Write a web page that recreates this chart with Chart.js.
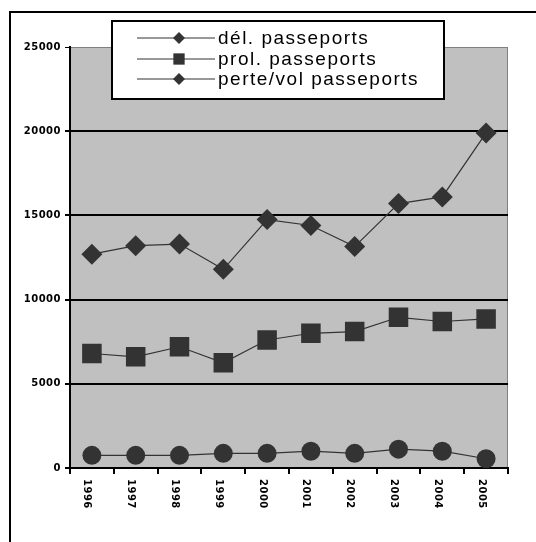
<!DOCTYPE html>
<html>
<head>
<meta charset="utf-8">
<script src="https://cdn.jsdelivr.net/npm/chart.js@4.4.1/dist/chart.umd.min.js"></script>
<style>
html, body { margin: 0; padding: 0; background: #fff; }
#wrap { width: 536px; height: 542px; }
</style>
</head>
<body>
<div id="wrap"><canvas id="chart" width="536" height="542"></canvas></div>
<script>
// ---- data ----
const years = ["1996", "1997", "1998", "1999", "2000", "2001", "2002", "2003", "2004", "2005"];
const delivrance = [12700, 13200, 13300, 11800, 14750, 14400, 13150, 15700, 16100, 19900];
const prolongation = [6800, 6600, 7200, 6250, 7600, 8000, 8100, 8950, 8700, 8850];
const perteVol = [750, 750, 750, 870, 870, 1000, 870, 1120, 1000, 550];
const seriesLabels = ["dél. passeports", "prol. passeports", "perte/vol passeports"];
const yTicks = [0, 5000, 10000, 15000, 20000, 25000];

const ink = "#333333";

// background, frame, plot area fill
const backdrop = {
    id: "backdrop",
    beforeDraw(chart) {
        const ctx = chart.ctx;
        const a = chart.chartArea;
        ctx.save();
        ctx.fillStyle = "#fff";
        ctx.fillRect(0, 0, chart.width, chart.height);
        // outer frame (only left/top visible)
        ctx.strokeStyle = "#000";
        ctx.lineWidth = 2;
        ctx.beginPath();
        ctx.moveTo(10, chart.height + 2);
        ctx.lineTo(10, 12);
        ctx.lineTo(chart.width + 2, 12);
        ctx.stroke();
        // plot area
        ctx.fillStyle = "#c0c0c0";
        ctx.fillRect(a.left, a.top, a.right - a.left, a.bottom - a.top);
        ctx.strokeStyle = "#808080";
        ctx.lineWidth = 1;
        ctx.beginPath();
        ctx.moveTo(a.left, a.top + 0.5);
        ctx.lineTo(a.right - 0.5, a.top + 0.5);
        ctx.lineTo(a.right - 0.5, a.bottom);
        ctx.stroke();
        ctx.restore();
        ctx.letterSpacing = "0.5px";
    }
};

// rotated year labels + legend box
const overlay = {
    id: "overlay",
    afterDraw(chart) {
        const ctx = chart.ctx;
        const xs = chart.scales.x;

        ctx.save();
        ctx.letterSpacing = "0.5px";
        ctx.fillStyle = "#000";
        ctx.font = "bold 10px 'DejaVu Sans'";
        ctx.textAlign = "left";
        ctx.textBaseline = "middle";
        years.forEach((y, i) => {
            const x = xs.getPixelForTick(i) - 5;
            ctx.save();
            ctx.translate(x, 479);
            ctx.rotate(Math.PI / 2);
            ctx.fillText(y, 0, 0);
            ctx.restore();
        });
        ctx.restore();

        // legend
        ctx.save();
        ctx.fillStyle = "#fff";
        ctx.fillRect(112, 21, 332, 78);
        ctx.strokeStyle = "#000";
        ctx.lineWidth = 2;
        ctx.strokeRect(112, 21, 332, 78);
        const rows = [38, 59, 79];
        const marks = [["rectRot", 6], ["rect", 8], ["rectRot", 6]];
        ctx.font = "19px 'Liberation Sans'";
        ctx.letterSpacing = "1.5px";
        ctx.textAlign = "left";
        ctx.textBaseline = "middle";
        seriesLabels.forEach((label, i) => {
            const y = rows[i];
            ctx.strokeStyle = ink;
            ctx.lineWidth = 1.2;
            ctx.beginPath();
            ctx.moveTo(137, y);
            ctx.lineTo(215, y);
            ctx.stroke();
            ctx.fillStyle = ink;
            Chart.helpers.drawPoint(ctx, { pointStyle: marks[i][0], radius: marks[i][1], borderWidth: 0 }, 179, y);
            ctx.fillStyle = "#000";
            ctx.fillText(label, 218, y + 1);
        });
        ctx.restore();
    }
};

const ctx = document.getElementById("chart").getContext("2d");

new Chart(ctx, {
    type: "line",
    data: {
        labels: years,
        datasets: [
            {
                label: seriesLabels[0],
                data: delivrance,
                borderColor: ink,
                backgroundColor: ink,
                borderWidth: 1.2,
                pointStyle: "rectRot",
                pointRadius: 10.5,
                pointBorderWidth: 0,
                tension: 0
            },
            {
                label: seriesLabels[1],
                data: prolongation,
                borderColor: ink,
                backgroundColor: ink,
                borderWidth: 1.2,
                pointStyle: "rect",
                pointRadius: 13.8,
                pointBorderWidth: 0,
                tension: 0
            },
            {
                label: seriesLabels[2],
                data: perteVol,
                borderColor: ink,
                backgroundColor: ink,
                borderWidth: 1.2,
                pointStyle: "circle",
                pointRadius: 9.5,
                pointBorderWidth: 0,
                tension: 0
            }
        ]
    },
    options: {
        responsive: false,
        animation: false,
        devicePixelRatio: 1,
        layout: { padding: { left: 0, top: 47, right: 28, bottom: 0 } },
        plugins: {
            legend: { display: false },
            tooltip: { enabled: false }
        },
        scales: {
            x: {
                offset: true,
                afterFit: s => { s.height = 74; },
                border: { color: "#000", width: 2 },
                grid: {
                    offset: true,
                    drawOnChartArea: false,
                    drawTicks: true,
                    tickLength: 6,
                    color: "#000",
                    lineWidth: 2
                },
                ticks: { display: false }
            },
            y: {
                min: 0,
                max: 25000,
                afterBuildTicks: s => { s.ticks = yTicks.map(v => ({ value: v })); },
                afterFit: s => { s.width = 70; },
                border: { color: "#000", width: 2 },
                grid: {
                    color: c => (c.tick && c.tick.value === 25000 ? "#808080" : "#000"),
                    lineWidth: c => (c.tick && c.tick.value === 25000 ? 1 : 2),
                    tickColor: "#000",
                    tickLength: 5
                },
                ticks: {
                    color: "#000",
                    padding: 4,
                    font: { family: "DejaVu Sans", weight: "bold", size: 10 },
                    callback: v => String(v)
                }
            }
        }
    },
    plugins: [backdrop, overlay]
});
</script>
</body>
</html>
